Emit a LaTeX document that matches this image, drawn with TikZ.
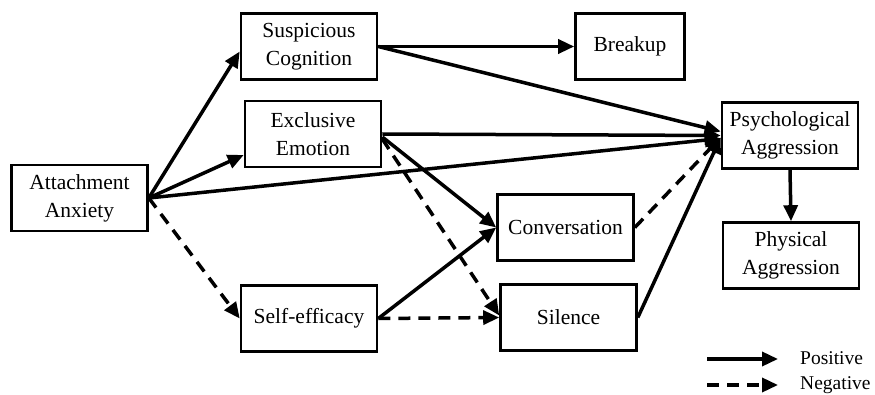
\documentclass[tikz,border=0pt]{standalone}
\usepackage{fontspec}
\setmainfont{Liberation Serif}
\usetikzlibrary{arrows.meta}
\begin{document}
\begin{tikzpicture}[x=1pt,y=-1pt,
  box/.style={draw, line width=2.6pt, align=center, inner sep=0pt,
    minimum width=136pt, minimum height=66pt, font=\fontsize{21.5}{28}\selectfont},
  posarrow/.style={line width=3.5pt, -{Triangle[length=16pt,width=14pt]}},
  negarrow/.style={posarrow, dash pattern=on 12pt off 8pt},
  legendlab/.style={font=\fontsize{19.5}{23}\selectfont, anchor=west, inner sep=0pt}
]
\useasboundingbox (0,0) rectangle (875,395);

\node[box] (aa) at (79.5,198) {Attachment\\Anxiety};
\node[box] (sc) at (309,46.5) {Suspicious\\Cognition};
\node[box] (ee) at (313,134) {Exclusive\\Emotion};
\node[box] (se) at (309,318.5) {Self-efficacy};
\node[box, minimum width=109pt] (br) at (630,46.5) {Breakup};
\node[box] (cv) at (565.5,227.5) {Conversation};
\node[box] (si) at (568.5,317.5) {Silence};
\node[box] (pa) at (790,135.5) {Psychological\\Aggression};
\node[box] (ph) at (791,255.5) {Physical\\Aggression};

% from Attachment Anxiety
\draw[posarrow] (aa.east) -- ([yshift=-5pt]sc.west);
\draw[posarrow] (aa.east) -- ([yshift=-21pt]ee.west);
\draw[posarrow] (aa.east) -- ([yshift=-3pt]pa.west);
\draw[negarrow] (aa.east) -- (se.west);

% from Suspicious Cognition
\draw[posarrow] (sc.east) -- (br.west);
\draw[posarrow] (sc.east) -- ([yshift=4pt]pa.west);

% from Exclusive Emotion
\draw[posarrow] (ee.east) -- (pa.west);
\draw[posarrow] ([yshift=-3pt]ee.east) -- (cv.west);
\draw[negarrow] ([yshift=-5pt]ee.east) -- ([yshift=2pt]si.west);

% from Self-efficacy
\draw[posarrow] (se.east) -- (cv.west);
\draw[negarrow] (se.east) -- (si.west);

% mediators to Psychological Aggression
\draw[negarrow] (cv.east) -- ([yshift=-2pt]pa.west);
\draw[posarrow] (si.east) -- ([yshift=-2pt]pa.west);

\draw[posarrow] (pa.south) -- (ph.north);

% legend
\coordinate (p1) at (707,359);
\coordinate (p2) at (778,359);
\coordinate (n1) at (707,385);
\coordinate (n2) at (778,385);
\draw[posarrow] (p1) -- (p2);
\draw[negarrow] (n1) -- (n2);
\node[legendlab] (lp) at (800,358) {Positive};
\node[legendlab] (ln) at (800,385) {Negative};
\end{tikzpicture}
\end{document}
